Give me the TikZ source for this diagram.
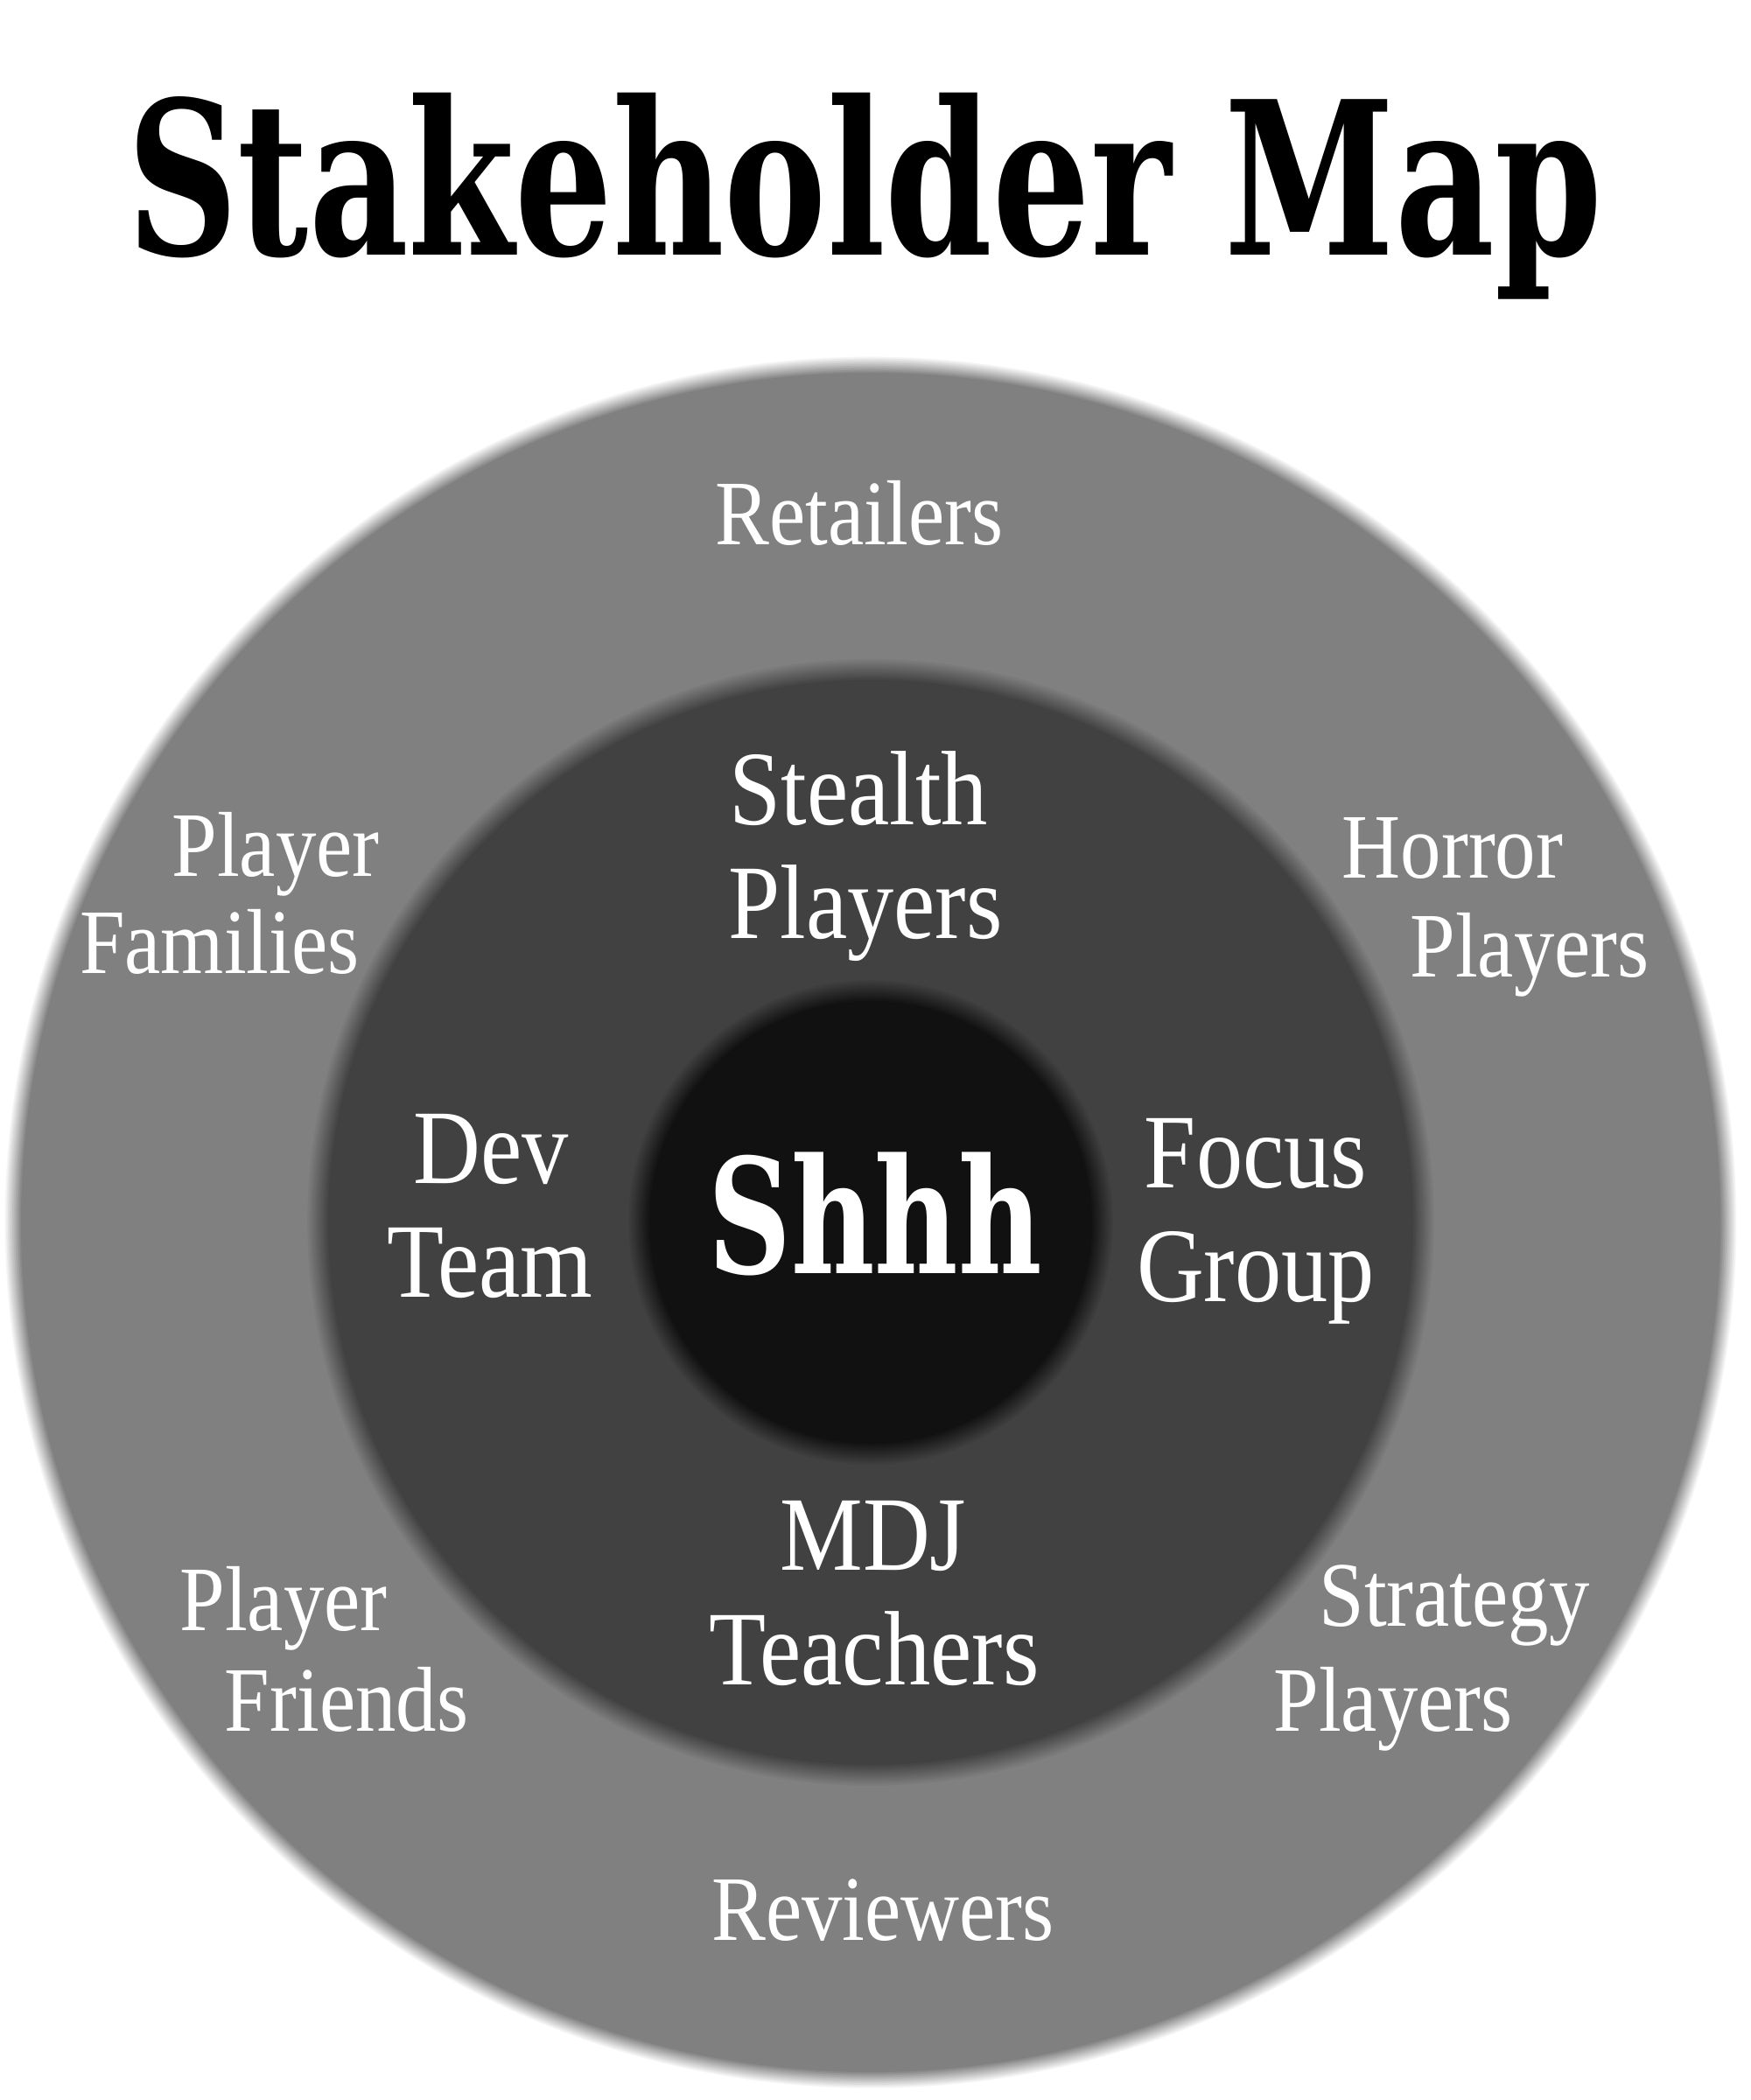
\documentclass[tikz,border=0pt]{standalone}
\usepackage{fontspec}
\newfontfamily\labelfont{Liberation Serif}[FakeStretch=0.88]
\newfontfamily\headfont{DejaVu Serif}[FakeStretch=0.72]
\definecolor{ringout}{HTML}{808080}
\definecolor{ringmid}{HTML}{414141}
\definecolor{ringin}{HTML}{111111}
\tikzset{
  outerlbl/.style={text=white, anchor=base, inner sep=0pt, font=\labelfont\fontsize{30}{36}\selectfont},
  midlbl/.style={outerlbl, font=\labelfont\fontsize{34.4}{40}\selectfont},
}
% disc with a soft edge: centre, radius, colour, colour behind, blur
\newcommand\softdisc[5]{%
  \foreach \k in {0,...,12}{%
    \pgfmathsetmacro\rr{#2+#5-\k*#5/6}%
    \pgfmathsetmacro\pp{100*\k/12}%
    \fill[#3!\pp!#4] (#1) circle (\rr);
  }}
\begin{document}
\begin{tikzpicture}[line join=round, line cap=round]
		\def\cx{9.95} \def\cy{-13.97}
		\fill[white] (0,0) rectangle (20,-24);
		\useasboundingbox (0,0) rectangle (20,-24);
		\coordinate (c) at (\cx,\cy);
		\softdisc{c}{9.81}{ringout}{white}{0.10}
		\softdisc{c}{6.33}{ringmid}{ringout}{0.13}
		\softdisc{c}{2.66}{ringin}{ringmid}{0.13}
		\node[anchor=base, inner sep=0pt, font=\headfont\bfseries\fontsize{69.4}{80}\selectfont] (title) at (9.88,-2.92) {Stakeholder Map};
		\node[anchor=base, inner sep=0pt, text=white, font=\headfont\bfseries\fontsize{51.9}{60}\selectfont] (shhh) at (10.00,-14.55) {Shhh};
		%inner ring
		\node[midlbl] (stealth) at (9.81,-9.42) {Stealth};
		\node[midlbl] (stealthpl) at (9.89,-10.72) {Players};
		\node[midlbl] (dev) at (5.61,-13.52) {Dev};
		\node[midlbl] (devteam) at (5.60,-14.82) {Team};
		\node[midlbl] (focus) at (14.35,-13.57) {Focus};
		\node[midlbl] (focusgr) at (14.35,-14.87) {Group};
		\node[midlbl] (mdj) at (9.98,-17.94) {MDJ};
		\node[midlbl] (mdjteach) at (9.99,-19.25) {Teachers};
		%outer ring
		\node[outerlbl] (retail) at (9.82,-6.23) {Retailers};
		\node[outerlbl] (family) at (3.15,-10.01) {Player};
		\node[outerlbl] (familyb) at (2.51,-11.12) {Families};
		\node[outerlbl] (horror) at (16.60,-10.03) {Horror};
		\node[outerlbl] (horrorpl) at (17.48,-11.16) {Players};
		\node[outerlbl] (friend) at (3.24,-18.63) {Player};
		\node[outerlbl] (friendb) at (3.96,-19.78) {Friends};
		\node[outerlbl] (strat) at (16.62,-18.58) {Strategy};
		\node[outerlbl] (stratpl) at (15.92,-19.78) {Players};
		\node[outerlbl] (review) at (10.09,-22.17) {Reviewers};
	\end{tikzpicture}
\end{document}
